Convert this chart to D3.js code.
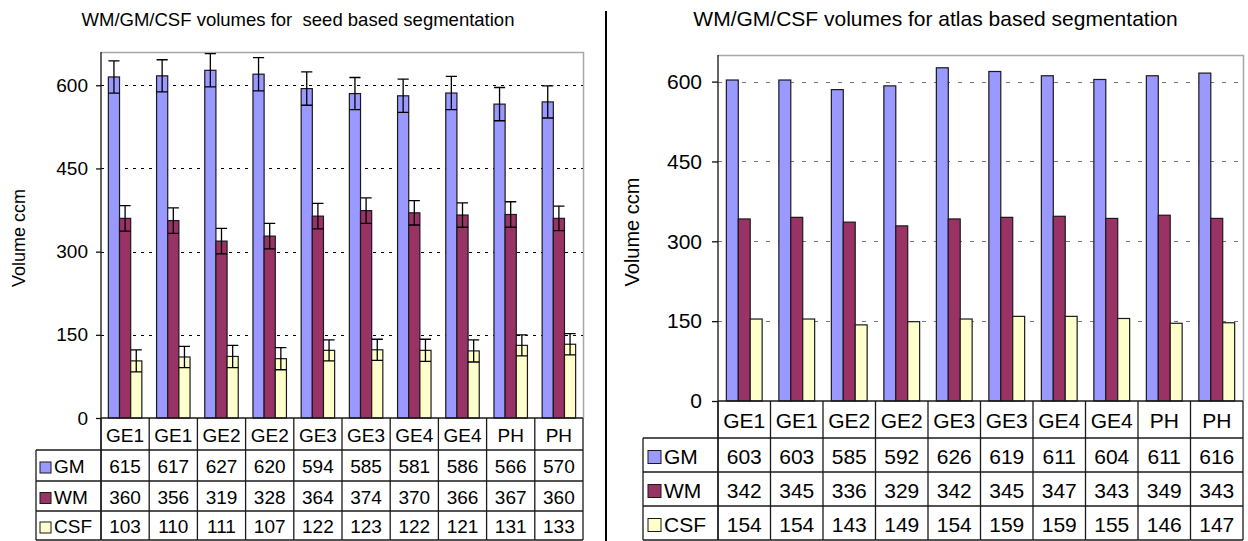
<!DOCTYPE html>
<html>
<head>
<meta charset="utf-8">
<script src="https://cdn.jsdelivr.net/npm/d3@7"></script>
<style>
  html, body { margin: 0; padding: 0; background: #fff; }
  svg { display: block; font-family: "Liberation Sans", Arial, Helvetica, sans-serif; }
</style>
</head>
<body>
<svg id="chart" width="1248" height="541"></svg>
<script>
// Scanner groups (each scanner appears twice)
const categories = ["GE1", "GE1", "GE2", "GE2", "GE3", "GE3", "GE4", "GE4", "PH", "PH"];
const seriesNames = ["GM", "WM", "CSF"];
const seriesColors = ["#9999FF", "#993366", "#FFFFCC"];
const yTicks = [0, 150, 300, 450, 600];

// Seed based segmentation: mean volumes (ccm)
const seedGM = [615, 617, 627, 620, 594, 585, 581, 586, 566, 570];
const seedWM = [360, 356, 319, 328, 364, 374, 370, 366, 367, 360];
const seedCSF = [103, 110, 111, 107, 122, 123, 122, 121, 131, 133];
// Seed based segmentation: standard deviations (ccm)
const seedGMsd = [29, 29, 30, 30, 30, 29, 30, 30, 30, 29];
const seedWMsd = [23, 23, 23, 23, 23, 23, 22, 22, 23, 22];
const seedCSFsd = [20, 19, 20, 20, 19, 19, 20, 20, 19, 19];

// Atlas based segmentation: volumes (ccm)
const atlasGM = [603, 603, 585, 592, 626, 619, 611, 604, 611, 616];
const atlasWM = [342, 345, 336, 329, 342, 345, 347, 343, 349, 343];
const atlasCSF = [154, 154, 143, 149, 154, 159, 159, 155, 146, 147];

const svg = d3.select("#chart");

function drawPanel(cfg) {
  const g = svg.append("g");
  const fs = cfg.fontSize;

  const x = d3.scaleBand().domain(d3.range(categories.length))
    .range([cfg.left, cfg.right]).paddingInner(0).paddingOuter(0);
  const xs = d3.scaleBand().domain(seriesNames)
    .range([0, x.bandwidth()]).paddingInner(0).paddingOuter(cfg.groupPad);
  const y = d3.scaleLinear().domain([0, cfg.yMax]).range([cfg.bottom, cfg.top]);

  // title
  g.append("text").attr("x", cfg.titleX).attr("y", 26)
    .attr("text-anchor", "middle").attr("font-size", cfg.titleSize)
    .text(cfg.title);

  // plot frame (top / right)
  g.append("path")
    .attr("d", `M${cfg.left},${cfg.top + 0.5}H${cfg.right + 0.5}V${cfg.bottom}`)
    .attr("fill", "none").attr("stroke", "#a8a8a8").attr("stroke-width", 1.5);

  // gridlines
  g.append("g").selectAll("line").data(yTicks.filter(t => t > 0)).join("line")
    .attr("x1", cfg.left).attr("x2", cfg.right)
    .attr("y1", d => Math.round(y(d)) + 0.5).attr("y2", d => Math.round(y(d)) + 0.5)
    .attr("stroke", cfg.gridColor).attr("stroke-width", 1)
    .attr("stroke-dasharray", cfg.gridDash);

  const series = cfg.series;
  // bars
  series.forEach((vals, si) => {
    g.append("g").selectAll("rect").data(vals).join("rect")
      .attr("x", (d, i) => x(i) + xs(seriesNames[si]))
      .attr("y", d => y(d))
      .attr("width", xs.bandwidth())
      .attr("height", d => y(0) - y(d))
      .attr("fill", seriesColors[si])
      .attr("stroke", "#1a1a1a").attr("stroke-width", 1.2);
  });

  // error bars
  if (cfg.errors) {
    cfg.errors.forEach((sds, si) => {
      const eg = g.append("g").attr("stroke", "#000").attr("stroke-width", 1.3).attr("fill", "none");
      sds.forEach((sd, i) => {
        const v = series[si][i];
        const x0 = x(i) + xs(seriesNames[si]);
        const cx = x0 + xs.bandwidth() / 2;
        const yHi = Math.max(y(v + sd), cfg.top + 1);
        const yLo = y(v - sd);
        eg.append("path")
          .attr("d", `M${cx},${yHi}V${yLo}M${x0},${yHi}H${x0 + xs.bandwidth()}M${x0},${yLo}H${x0 + xs.bandwidth()}`);
      });
    });
  }

  // y axis
  const yAxis = g.append("g").attr("transform", `translate(${cfg.left},0)`)
    .call(d3.axisLeft(y).tickValues(yTicks).tickSize(cfg.tickSize).tickPadding(cfg.tickPad));
  yAxis.select(".domain").remove();
  yAxis.selectAll(".tick line").attr("stroke", "#111").attr("stroke-width", 1.3);
  yAxis.selectAll(".tick text").attr("font-size", fs).attr("fill", "#000")
    .attr("font-family", "Liberation Sans, Arial, sans-serif");
  g.append("line").attr("x1", cfg.left).attr("x2", cfg.left)
    .attr("y1", cfg.top).attr("y2", cfg.rows[cfg.rows.length - 1])
    .attr("stroke", "#111").attr("stroke-width", 1.3);

  // axis title
  g.append("text")
    .attr("transform", `translate(${cfg.axisTitleX},${cfg.axisTitleY}) rotate(-90)`)
    .attr("text-anchor", "middle").attr("dominant-baseline", "central")
    .attr("font-size", cfg.axisTitleSize).text("Volume ccm");

  // data table
  const rows = cfg.rows; // [axis, cat bottom, GM bottom, WM bottom, CSF bottom]
  const tg = g.append("g").attr("stroke", "#1a1a1a").attr("stroke-width", 1.3);
  // horizontal lines
  tg.append("line").attr("x1", cfg.left).attr("x2", cfg.right)
    .attr("y1", rows[0]).attr("y2", rows[0]);
  rows.slice(1).forEach(r => {
    tg.append("line").attr("x1", cfg.legendLeft).attr("x2", cfg.right)
      .attr("y1", r).attr("y2", r);
  });
  // vertical lines
  d3.range(categories.length + 1).forEach(i => {
    const xx = i < categories.length ? x(i) : cfg.right;
    tg.append("line").attr("x1", xx).attr("x2", xx)
      .attr("y1", rows[0]).attr("y2", rows[rows.length - 1]);
  });
  tg.append("line").attr("x1", cfg.legendLeft).attr("x2", cfg.legendLeft)
    .attr("y1", rows[1]).attr("y2", rows[rows.length - 1]);

  // category labels
  const xAxis = g.append("g").attr("transform", `translate(0,${(rows[0] + rows[1]) / 2})`)
    .call(d3.axisBottom(x).tickFormat(i => categories[i]).tickSize(0).tickPadding(0));
  xAxis.select(".domain").remove();
  xAxis.selectAll(".tick text").attr("dy", null).attr("y", 1)
    .attr("dominant-baseline", "central").attr("font-size", fs).attr("fill", "#000")
    .attr("font-family", "Liberation Sans, Arial, sans-serif");

  // value rows + legend keys
  series.forEach((vals, si) => {
    const cy = (rows[si + 1] + rows[si + 2]) / 2 + 1;
    g.append("g").selectAll("text").data(vals).join("text")
      .attr("x", (d, i) => x(i) + x.bandwidth() / 2).attr("y", cy)
      .attr("text-anchor", "middle").attr("dominant-baseline", "central")
      .attr("font-size", fs).text(d => d);
    g.append("rect")
      .attr("x", cfg.legendLeft + cfg.swatchOff).attr("y", cy - cfg.swatch / 2 + 1)
      .attr("width", cfg.swatch).attr("height", cfg.swatch)
      .attr("fill", seriesColors[si]).attr("stroke", "#1a1a1a").attr("stroke-width", 1);
    g.append("text")
      .attr("x", cfg.legendLeft + cfg.swatchOff + cfg.swatch + 3).attr("y", cy)
      .attr("dominant-baseline", "central").attr("font-size", fs)
      .text(seriesNames[si]);
  });
}

drawPanel({
  title: "WM/GM/CSF volumes for \u00a0seed based segmentation",
  titleX: 298, titleSize: 18.5,
  left: 101, right: 583, top: 52, bottom: 418, yMax: 660,
  groupPad: 0.66,
  gridColor: "#000", gridDash: "3,5",
  tickSize: 5, tickPad: 8,
  fontSize: 19,
  axisTitleX: 19, axisTitleY: 238, axisTitleSize: 18,
  rows: [418, 450, 481, 511, 540],
  legendLeft: 36, swatchOff: 4, swatch: 11,
  series: [seedGM, seedWM, seedCSF],
  errors: [seedGMsd, seedWMsd, seedCSFsd]
});

drawPanel({
  title: "WM/GM/CSF volumes for atlas based segmentation",
  titleX: 935.5, titleSize: 21,
  left: 718, right: 1243, top: 55, bottom: 401, yMax: 650,
  groupPad: 0.7,
  gridColor: "#777", gridDash: "4,8",
  tickSize: 6, tickPad: 10,
  fontSize: 21,
  axisTitleX: 632, axisTitleY: 232, axisTitleSize: 20,
  rows: [401, 438, 472, 506, 540],
  legendLeft: 643, swatchOff: 5, swatch: 13,
  series: [atlasGM, atlasWM, atlasCSF],
  errors: null
});

// divider between the two panels
svg.append("line").attr("x1", 606).attr("x2", 606).attr("y1", 11).attr("y2", 541)
  .attr("stroke", "#000").attr("stroke-width", 2);
</script>
</body>
</html>
